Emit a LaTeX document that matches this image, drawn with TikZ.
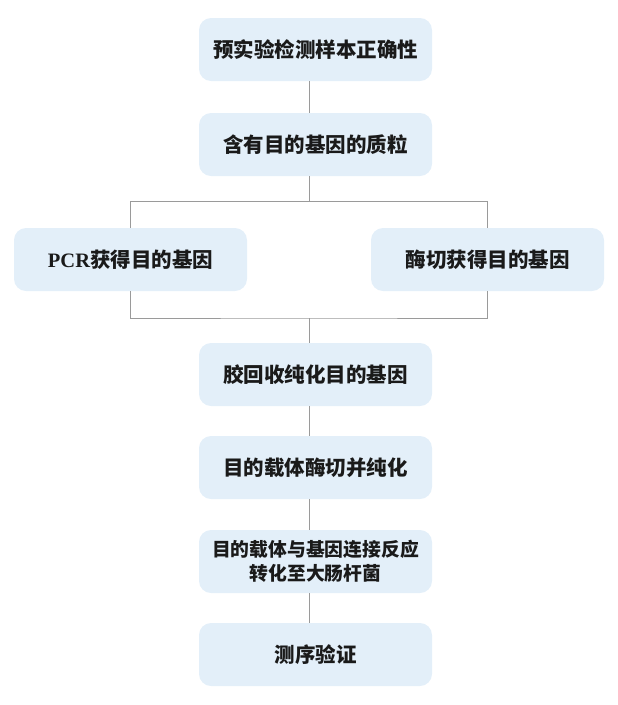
\documentclass[tikz,border=0pt]{standalone}
\usepackage{fontspec}
\setmainfont{Liberation Serif}
\newfontfamily\cjk{Noto Sans CJK SC}
\definecolor{boxfill}{HTML}{E3EFF9}
\definecolor{linegray}{HTML}{9A9A9A}
\definecolor{txt}{HTML}{1A1A1A}
\begin{document}
\begin{tikzpicture}[x=1pt,y=-1pt,
  stepbox/.style={fill=boxfill, draw=none, rounded corners=12pt,
    minimum width=233pt, minimum height=63pt, inner sep=0pt,
    align=center, text=txt,
    font=\fontsize{20.5}{24.5}\selectfont\bfseries\cjk},
  smalltext/.style={font=\fontsize{18.8}{24}\selectfont\bfseries\cjk},
  conn/.style={draw=linegray, line width=0.9pt}]
\useasboundingbox (0,0) rectangle (618,705);
\node[stepbox] (b1) at (315.5,49.5) {预实验检测样本正确性};
\node[stepbox] (b2) at (315.5,144.5) {含有目的基因的质粒};
\node[stepbox] (pcr) at (130.5,259.5) {{\rmfamily PCR}获得目的基因};
\node[stepbox] (enz) at (487.5,259.5) {酶切获得目的基因};
\node[stepbox] (b3) at (315.5,374.5) {胶回收纯化目的基因};
\node[stepbox] (b4) at (315.5,467.5) {目的载体酶切并纯化};
\node[stepbox, smalltext] (b5) at (315.5,561.5) {目的载体与基因连接反应\\转化至大肠杆菌};
\node[stepbox] (b6) at (315.5,654.5) {测序验证};
\coordinate (split) at (309,201.5);
\coordinate (join) at (309,318);
\draw[conn] ([xshift=-6.5pt]b1.south) -- ([xshift=-6.5pt]b2.north);
\draw[conn] ([xshift=-6.5pt]b2.south) -- (split);
\draw[conn] (pcr.north) |- (split) -| (enz.north);
\draw[conn] (pcr.south) |- (join) -| (enz.south);
\draw[conn] (join) -- ([xshift=-6.5pt]b3.north);
\draw[conn] ([xshift=-6.5pt]b3.south) -- ([xshift=-6.5pt]b4.north);
\draw[conn] ([xshift=-6.5pt]b4.south) -- ([xshift=-6.5pt]b5.north);
\draw[conn] ([xshift=-6.5pt]b5.south) -- ([xshift=-6.5pt]b6.north);
\end{tikzpicture}
\end{document}
